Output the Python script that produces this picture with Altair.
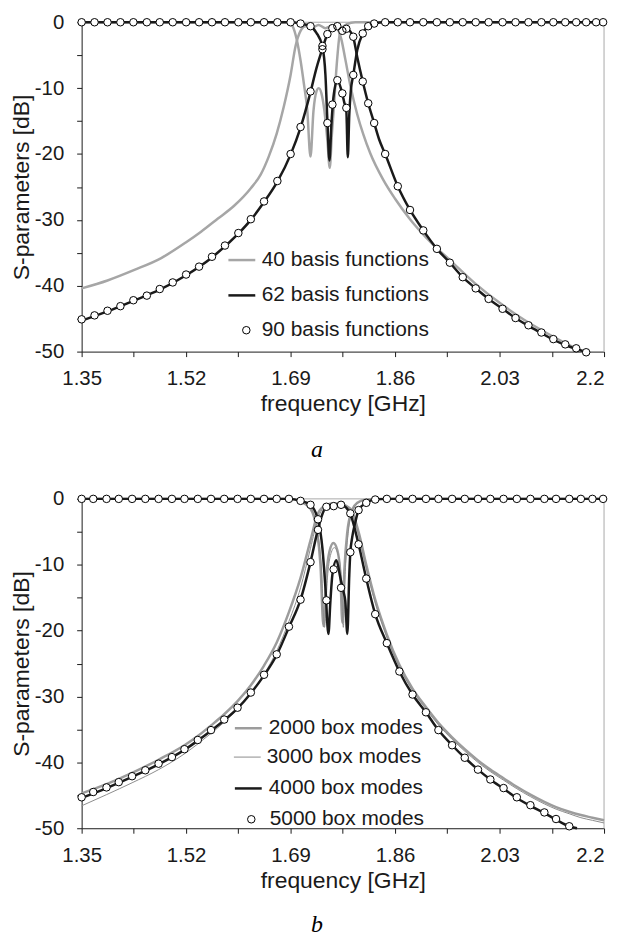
import altair as alt
import pandas as pd

FONT = "Liberation Sans"
X_DOMAIN = [1.35, 2.2]
Y_DOMAIN = [-50, 0]
X_TICKS = [1.35, 1.435, 1.52, 1.605, 1.69, 1.775, 1.86, 1.945, 2.03, 2.115, 2.2]
Y_TICKS = [0, -5, -10, -15, -20, -25, -30, -35, -40, -45, -50]

# ---------------- panel a ----------------
A_LINE_LABELS = ["40 basis functions", "62 basis functions"]
A_PT_LABEL = "90 basis functions"

A_S21_40_F = [1.3500, 1.3921, 1.4358, 1.4795, 1.5200, 1.5443, 1.5718, 1.5977, 1.6253, 1.6415,
              1.6544, 1.6674, 1.6787, 1.6900, 1.6981, 1.7062, 1.7143, 1.7256, 1.7353, 1.7467,
              1.7580, 1.7661, 1.7726, 1.7790, 1.7872, 1.7985, 1.8082, 1.8196, 1.8406, 1.8600,
              1.8843, 1.9118, 1.9280, 1.9491, 1.9896, 2.0301, 2.0705, 2.1110, 2.1434, 2.1650]
A_S21_40_DB = [-40.4, -39.2, -37.6, -35.8, -33.4, -31.8, -29.8, -27.9, -25.2, -23.1,
               -20.4, -16.9, -12.9, -8.0, -3.6, -1.3, -0.6, -0.8, -0.4, -0.9,
               -0.5, -1.0, -2.6, -5.6, -9.6, -14.0, -17.0, -19.9, -23.9, -26.8,
               -29.9, -32.8, -34.3, -36.1, -39.6, -42.6, -45.2, -47.4, -49.0, -50.0]

A_S11_40_F = [1.3500, 1.6868, 1.6933, 1.6997, 1.7062, 1.7119, 1.7170, 1.7224, 1.7272, 1.7321,
              1.7359, 1.7402, 1.7451, 1.7499, 1.7537, 1.7572, 1.7602, 1.7656, 1.7710, 1.7818,
              1.7952, 2.2000]
A_S11_40_DB = [0.0, 0.0, -0.6, -2.5, -5.8, -9.5, -13.2, -20.4, -13.5, -10.5,
               -10.0, -10.8, -13.5, -18.0, -22.1, -17.0, -13.2, -5.8, -1.3, -0.3,
               0.0, 0.0]

A_S21_62_F = [1.3500, 1.3921, 1.4342, 1.4771, 1.5200, 1.5621, 1.6050, 1.6253, 1.6468, 1.6685,
              1.6900, 1.7062, 1.7224, 1.7320, 1.7418, 1.7499, 1.7580, 1.7661, 1.7742, 1.7807,
              1.7871, 1.7920, 1.7985, 1.8074, 1.8163, 1.8260, 1.8341, 1.8439, 1.8644, 1.8843,
              1.9059, 1.9280, 1.9491, 1.9701, 1.9912, 2.0122, 2.0349, 2.0560, 2.0770, 2.0981,
              2.1175, 2.1369, 2.1547, 2.1700]
A_S21_62_DB = [-45.3, -43.9, -42.3, -40.6, -38.4, -35.7, -32.1, -30.0, -27.3, -24.2,
               -20.1, -16.0, -10.6, -7.0, -4.0, -1.8, -0.9, -0.6, -1.2, -1.0,
               -1.4, -2.3, -5.3, -9.0, -12.3, -15.3, -17.8, -20.0, -24.9, -28.5,
               -31.6, -34.4, -36.5, -38.7, -40.4, -42.0, -43.5, -44.9, -46.1, -47.2,
               -48.2, -49.0, -49.6, -50.0]

A_S11_62_F = [1.3500, 1.6900, 1.7062, 1.7224, 1.7320, 1.7418, 1.7467, 1.7499, 1.7532, 1.7564,
              1.7596, 1.7661, 1.7726, 1.7774, 1.7807, 1.7831, 1.7855, 1.7879, 1.7920, 1.7985,
              1.8074, 1.8163, 1.8260, 1.8439, 2.2000]
A_S11_62_DB = [0.0, 0.0, -0.2, -0.6, -1.6, -3.7, -8.0, -15.0, -21.0, -15.5,
               -11.5, -8.8, -10.3, -12.2, -13.5, -20.5, -14.0, -10.5, -8.0, -4.2,
               -1.7, -0.6, -0.2, 0.0, 0.0]

A_PTS_F = [1.3500, 1.3710, 1.3921, 1.4131, 1.4342, 1.4561, 1.4771, 1.4982, 1.5200, 1.5411,
           1.5621, 1.5832, 1.6050, 1.6253, 1.6468, 1.6685, 1.6900, 1.7062, 1.7224, 1.7418,
           1.7499, 1.7580, 1.7661, 1.7742, 1.7807, 1.7920, 1.8074, 1.8163, 1.8260, 1.8439,
           1.8644, 1.8843, 1.9059, 1.9280, 1.9491, 1.9701, 1.9912, 2.0122, 2.0349, 2.0560,
           2.0770, 2.0981, 2.1175, 2.1369, 2.1547, 2.1709, 2.1871, 2.1985]
A_PTS_S21 = [-45.1, -44.5, -43.8, -43.1, -42.2, -41.5, -40.5, -39.5, -38.3, -37.1,
             -35.6, -33.9, -32.0, -29.9, -27.2, -24.1, -20.0, -15.9, -10.5, -4.1,
             -1.8, -0.9, -0.6, -1.3, -1.0, -2.2, -9.0, -12.3, -15.3, -20.0,
             -24.9, -28.5, -31.6, -34.4, -36.5, -38.7, -40.4, -42.0, -43.5, -44.9,
             -46.0, -47.1, -48.1, -48.9, -49.5, -50.1, -51.0, -51.7]
A_PTS_S11 = [0.0, 0.0, 0.0, 0.0, 0.0, 0.0, 0.0, 0.0, 0.0, 0.0,
             0.0, 0.0, 0.0, 0.0, 0.0, 0.0, 0.0, -0.2, -0.6, -3.6,
             -15.3, -12.5, -8.8, -10.8, -13.0, -8.0, -1.7, -0.6, -0.2, 0.0,
             0.0, 0.0, 0.0, 0.0, 0.0, 0.0, 0.0, 0.0, 0.0, 0.0,
             0.0, 0.0, 0.0, 0.0, 0.0, 0.0, 0.0, 0.0]

# ---------------- panel b ----------------
B_THICK_LABELS = ["2000 box modes", "4000 box modes"]
B_THIN_LABEL = "3000 box modes"
B_PT_LABEL = "5000 box modes"

B_S21_F = [1.3500, 1.3905, 1.4321, 1.4752, 1.5173, 1.5390, 1.5605, 1.5820, 1.6037, 1.6253,
           1.6468, 1.6674, 1.6873, 1.7062, 1.7224, 1.7346, 1.7483, 1.7601, 1.7721, 1.7872,
           1.8006, 1.8131, 1.8277, 1.8466, 1.8670, 1.8884, 1.9102, 1.9305, 1.9528, 1.9734,
           1.9949, 2.0150, 2.0365, 2.0581, 2.0802, 2.1029, 2.1219, 2.1434, 2.1623, 2.1811,
           2.2000]
B_S21_2000_DB = [-44.7, -43.3, -41.6, -39.6, -37.4, -36.0, -34.4, -32.7, -30.7, -28.3,
                 -25.3, -21.8, -17.2, -12.0, -6.3, -2.2, -0.9, -0.7, -0.8, -1.5,
                 -5.0, -10.0, -15.3, -20.6, -25.2, -28.8, -31.6, -34.0, -36.2, -38.0,
                 -39.7, -41.1, -42.4, -43.7, -44.9, -46.0, -46.8, -47.5, -48.0, -48.4,
                 -48.8]
B_S21_3000_DB = [-46.6, -44.9, -43.1, -41.1, -38.7, -37.2, -35.6, -33.9, -31.9, -29.5,
                 -26.6, -23.1, -18.6, -13.5, -7.5, -3.0, -1.0, -0.8, -0.9, -1.7,
                 -5.5, -10.6, -15.8, -21.0, -25.5, -29.1, -31.9, -34.3, -36.5, -38.3,
                 -40.0, -41.4, -42.7, -44.0, -45.2, -46.3, -47.1, -47.8, -48.4, -48.8,
                 -49.2]

B_S11_2000_F = [1.3500, 1.6900, 1.7062, 1.7224, 1.7321, 1.7386, 1.7435, 1.7483, 1.7532, 1.7596,
                1.7661, 1.7710, 1.7742, 1.7774, 1.7823, 1.7887, 1.7985, 1.8131, 1.8300, 2.2000]
B_S11_2000_DB = [0.0, 0.0, -0.4, -1.5, -4.5, -10.0, -19.3, -11.5, -8.0, -6.7,
                 -7.8, -11.5, -18.8, -11.0, -5.0, -2.0, -0.6, -0.1, 0.0, 0.0]

B_S11_3000_F = [1.3500, 1.6900, 1.7062, 1.7224, 1.7337, 1.7402, 1.7451, 1.7499, 1.7548, 1.7612,
                1.7677, 1.7726, 1.7758, 1.7790, 1.7839, 1.7903, 1.8000, 1.8150, 1.8300, 2.2000]
B_S11_3000_DB = [0.0, 0.0, -0.3, -1.3, -4.8, -10.5, -19.5, -12.0, -8.6, -7.4,
                 -8.6, -12.3, -19.5, -11.0, -5.0, -2.0, -0.6, -0.1, 0.0, 0.0]

B_S21_4000_F = [1.3500, 1.3905, 1.4321, 1.4752, 1.5173, 1.5390, 1.5605, 1.5820, 1.6037, 1.6253,
                1.6468, 1.6674, 1.6873, 1.7062, 1.7224, 1.7346, 1.7418, 1.7483, 1.7601, 1.7721,
                1.7800, 1.7872, 1.8006, 1.8131, 1.8277, 1.8466, 1.8670, 1.8884, 1.9102, 1.9305,
                1.9528, 1.9734, 1.9949, 2.0150, 2.0365, 2.0581, 2.0802, 2.1029, 2.1219, 2.1434,
                2.1560]
B_S21_4000_DB = [-45.4, -43.9, -42.2, -40.3, -38.1, -36.7, -35.2, -33.6, -31.8, -29.5,
                 -26.8, -23.7, -19.5, -15.3, -9.6, -4.6, -2.3, -1.2, -1.0, -0.9,
                 -1.3, -2.3, -6.9, -12.1, -17.5, -21.9, -26.2, -29.7, -32.4, -35.1,
                 -37.4, -39.3, -41.1, -42.6, -44.0, -45.4, -46.6, -47.7, -48.7, -49.7,
                 -50.0]

B_S11_4000_F = [1.3500, 1.6873, 1.7062, 1.7224, 1.7346, 1.7418, 1.7467, 1.7515, 1.7548, 1.7580,
                1.7645, 1.7710, 1.7758, 1.7790, 1.7823, 1.7855, 1.7871, 1.7903, 1.7952, 1.8006,
                1.8131, 1.8277, 1.8466, 2.2000]
B_S11_4000_DB = [0.0, 0.0, -0.3, -0.9, -3.2, -7.5, -13.5, -20.5, -15.5, -11.5,
                 -9.3, -12.0, -14.0, -15.5, -20.5, -11.5, -8.3, -5.8, -3.6, -1.7,
                 -0.6, -0.1, 0.0, 0.0]

B_PTS_F = [1.3500, 1.3689, 1.3905, 1.4104, 1.4321, 1.4536, 1.4752, 1.4969, 1.5173, 1.5390,
           1.5605, 1.5820, 1.6037, 1.6253, 1.6468, 1.6674, 1.6873, 1.7062, 1.7224, 1.7346,
           1.7483, 1.7601, 1.7721, 1.7872, 1.8006, 1.8131, 1.8277, 1.8466, 1.8670, 1.8884,
           1.9102, 1.9305, 1.9528, 1.9734, 1.9949, 2.0150, 2.0365, 2.0581, 2.0802, 2.1029,
           2.1219, 2.1434, 2.1623, 2.1811, 2.1985]
B_PTS_S21 = [-45.3, -44.5, -43.8, -43.0, -42.1, -41.2, -40.2, -39.2, -38.0, -36.6,
             -35.1, -33.5, -31.7, -29.4, -26.7, -23.6, -19.4, -15.3, -9.6, -4.7,
             -1.2, -1.1, -0.9, -2.2, -6.9, -12.1, -17.5, -21.9, -26.2, -29.7,
             -32.4, -35.1, -37.4, -39.3, -41.1, -42.6, -43.9, -45.3, -46.5, -47.6,
             -48.6, -49.7, -50.8, -51.8, -52.6]
B_PTS_S11 = [0.0, 0.0, 0.0, 0.0, 0.0, 0.0, 0.0, 0.0, 0.0, 0.0,
             0.0, 0.0, 0.0, 0.0, 0.0, 0.0, 0.0, -0.3, -0.9, -3.1,
             -15.4, -10.7, -13.5, -8.1, -1.7, -0.6, -0.1, 0.0, 0.0, 0.0,
             0.0, 0.0, 0.0, 0.0, 0.0, 0.0, 0.0, 0.0, 0.0, 0.0,
             0.0, 0.0, 0.0, 0.0, 0.0]

GRAY_THICK_A = "#a6a6a6"
GRAY_THICK_B = "#9c9c9c"
GRAY_THIN_B = "#8c8c8c"
BLACK = "#1a1a1a"


def curve(s21_f, s21_db, s11_f, s11_db, label):
    a = pd.DataFrame({"f": s21_f, "db": s21_db, "part": "S21"})
    b = pd.DataFrame({"f": s11_f, "db": s11_db, "part": "S11"})
    d = pd.concat([a, b], ignore_index=True)
    d["series"] = label
    return d


def points(f, s21, s11, label):
    a = pd.DataFrame({"f": f, "db": s21})
    b = pd.DataFrame({"f": f, "db": s11})
    d = pd.concat([a, b], ignore_index=True)
    d = d[d["db"] >= -50.5].reset_index(drop=True)
    d["pt"] = label
    return d


def x_enc():
    return alt.X(
        "f:Q",
        scale=alt.Scale(domain=X_DOMAIN, nice=False, zero=False),
        axis=alt.Axis(
            values=X_TICKS,
            title="frequency [GHz]",
            labelExpr="round((datum.value - 1.35) / 0.085) % 2 == 0 ? toString(datum.value) : ''",
            labelAlign={"condition": {"test": "datum.value > 2.19", "value": "right"}, "value": "center"},
            labelOverlap=False,
            grid=False,
        ),
    )


def y_enc():
    return alt.Y(
        "db:Q",
        scale=alt.Scale(domain=Y_DOMAIN, nice=False, zero=False),
        axis=alt.Axis(
            values=Y_TICKS,
            title="S-parameters [dB]",
            labelExpr="datum.value % 10 == 0 ? toString(datum.value) : ''",
            labelOverlap=False,
            grid=False,
        ),
    )


LEG_TEXT = dict(orient="none", title=None, labelFont=FONT, labelFontSize=21,
                labelColor="#1a1a1a", labelLimit=400, padding=0)


def frame_layers():
    top = alt.Chart(pd.DataFrame({"db": [Y_DOMAIN[1]]})).mark_rule(
        color="#a8a8a8", strokeWidth=1).encode(y=y_enc())
    right = alt.Chart(pd.DataFrame({"f": [X_DOMAIN[1]]})).mark_rule(
        color="#a8a8a8", strokeWidth=1).encode(x=x_enc())
    return [top, right]


def point_layers(pt_df, pt_label, leg_pt):
    fill_layer = alt.Chart(pt_df).mark_point(
        shape="circle", filled=True, color="white", size=57, opacity=1, strokeWidth=0
    ).encode(x=x_enc(), y=y_enc())
    shape = alt.Shape("pt:N", scale=alt.Scale(domain=[pt_label], range=["circle"]),
                      legend=alt.Legend(symbolType="circle", symbolSize=57, symbolStrokeWidth=1,
                                        symbolStrokeColor="black", **LEG_TEXT, **leg_pt))
    stroke_layer = alt.Chart(pt_df).mark_point(
        filled=False, color="black", strokeWidth=1, size=57, opacity=1
    ).encode(x=x_enc(), y=y_enc(), shape=shape)
    return [fill_layer, stroke_layer]


def caption(text, offset):
    return alt.TitleParams(text=text, orient="bottom", anchor="middle", frame="group",
                           dx=-26, offset=offset, font="Liberation Serif", fontSize=24,
                           fontStyle="italic", fontWeight="normal", color="black")


# ---- panel a chart ----
a_df40 = curve(A_S21_40_F, A_S21_40_DB, A_S11_40_F, A_S11_40_DB, A_LINE_LABELS[0])
a_df62 = curve(A_S21_62_F, A_S21_62_DB, A_S11_62_F, A_S11_62_DB, A_LINE_LABELS[1])
a_pts = points(A_PTS_F, A_PTS_S21, A_PTS_S11, A_PT_LABEL)
a_color = alt.Color("series:N",
                    scale=alt.Scale(domain=A_LINE_LABELS, range=[GRAY_THICK_A, BLACK]),
                    legend=alt.Legend(symbolType="stroke", symbolSize=729, symbolStrokeWidth=2.5,
                                      legendX=146, legendY=224, rowPadding=10.5, labelOffset=5,
                                      **LEG_TEXT))
a_layers = frame_layers() + [
    alt.Chart(a_df40).mark_line(strokeWidth=2.5, interpolate="monotone").encode(
        x=x_enc(), y=y_enc(), detail="part:N", color=a_color),
    alt.Chart(a_df62).mark_line(strokeWidth=2.5, interpolate="monotone").encode(
        x=x_enc(), y=y_enc(), detail="part:N", color=a_color),
] + point_layers(a_pts, A_PT_LABEL, dict(legendX=155, legendY=299, labelOffset=5))
top = alt.layer(*a_layers).properties(width=525, height=331, title=caption("a", 22))

# ---- panel b chart ----
b_df2000 = curve(B_S21_F, B_S21_2000_DB, B_S11_2000_F, B_S11_2000_DB, B_THICK_LABELS[0])
b_df3000 = curve(B_S21_F, B_S21_3000_DB, B_S11_3000_F, B_S11_3000_DB, B_THIN_LABEL)
b_df4000 = curve(B_S21_4000_F, B_S21_4000_DB, B_S11_4000_F, B_S11_4000_DB, B_THICK_LABELS[1])
b_pts = points(B_PTS_F, B_PTS_S21, B_PTS_S11, B_PT_LABEL)
b_color = alt.Color("series:N",
                    scale=alt.Scale(domain=B_THICK_LABELS, range=[GRAY_THICK_B, BLACK]),
                    legend=alt.Legend(symbolType="stroke", symbolSize=729, symbolStrokeWidth=2.5,
                                      legendX=152.5, legendY=215.5, rowPadding=35.5,
                                      labelOffset=5.5, **LEG_TEXT))
b_thin = alt.StrokeWidth("series:N", scale=alt.Scale(domain=[B_THIN_LABEL], range=[1, 1]),
                         legend=alt.Legend(symbolType="stroke", symbolSize=729,
                                           symbolStrokeColor=GRAY_THIN_B,
                                           legendX=152.5, legendY=245.5, labelOffset=5.5,
                                           **LEG_TEXT))
b_layers = frame_layers() + [
    alt.Chart(b_df2000).mark_line(strokeWidth=2.5, interpolate="monotone").encode(
        x=x_enc(), y=y_enc(), detail="part:N", color=b_color),
    alt.Chart(b_df3000).mark_line(color=GRAY_THIN_B, interpolate="monotone").encode(
        x=x_enc(), y=y_enc(), detail="part:N", strokeWidth=b_thin),
    alt.Chart(b_df4000).mark_line(strokeWidth=2.5, interpolate="monotone").encode(
        x=x_enc(), y=y_enc(), detail="part:N", color=b_color),
] + point_layers(b_pts, B_PT_LABEL, dict(legendX=160, legendY=311.5, labelOffset=8))
bottom = alt.layer(*b_layers).properties(width=525, height=331, title=caption("b", 21))

chart = alt.vconcat(top, bottom, spacing=27).resolve_scale(
    color="independent", shape="independent", strokeWidth="independent").resolve_legend(
    color="independent", shape="independent", strokeWidth="independent").properties(
    padding={"left": 2, "top": 2, "right": 2, "bottom": 0})
chart = chart.configure_view(stroke=None).configure_axis(
    labelFont=FONT, titleFont=FONT, labelFontSize=20.5, titleFontSize=23,
    labelColor="#1a1a1a", titleColor="#1a1a1a", titleFontWeight="normal",
    domainColor="#1a1a1a", tickColor="#1a1a1a", domainWidth=1, tickWidth=1,
    tickSize=5, grid=False,
).configure_axisX(labelPadding=12, titlePadding=4).configure_axisY(
    labelPadding=13, titlePadding=1)

chart.save("out.html", embed_options={"renderer": "svg", "actions": False})
